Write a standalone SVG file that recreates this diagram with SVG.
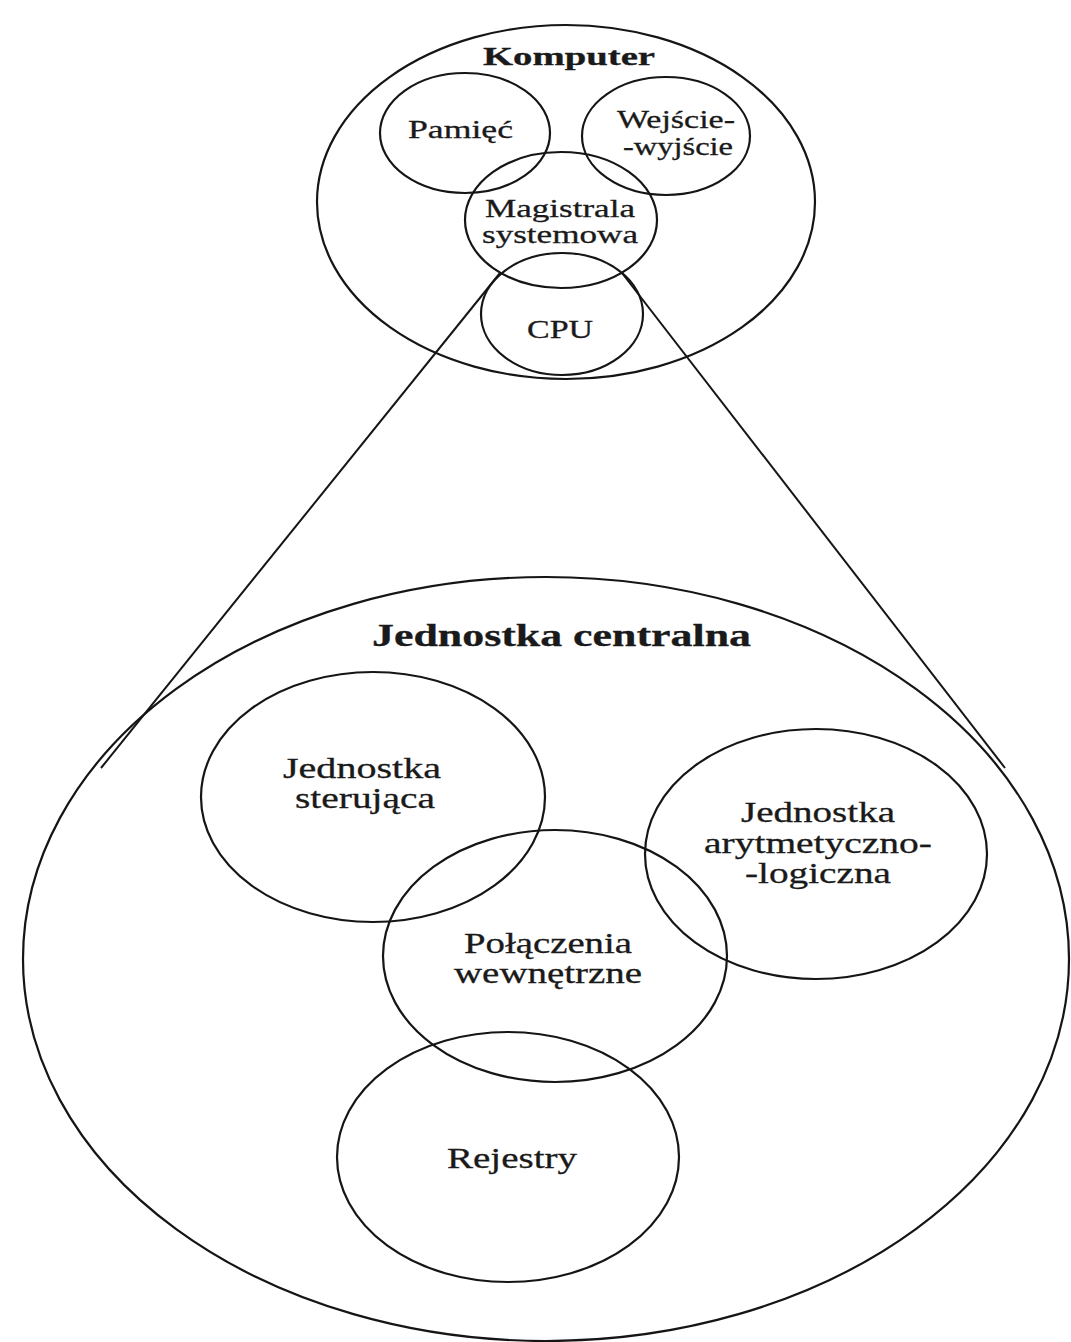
<svg xmlns="http://www.w3.org/2000/svg" width="1071" height="1342" viewBox="0 0 1071 1342">
<style>
  .shape { fill: none; stroke: #151515; stroke-width: 2.2; }
  .conn { fill: none; stroke: #151515; stroke-width: 2; }
  .t { font-family: "Liberation Serif", "Times New Roman", serif; fill: #1a1a1a; stroke: #1a1a1a; stroke-width: 0.3; }
  .s { font-size: 25px; }
  .l { font-size: 30px; }
  .b { font-weight: bold; }
</style>
<rect width="1071" height="1342" fill="#ffffff"/>
<g id="connectors">
  <line class="conn" x1="500" y1="273" x2="101" y2="768"/>
  <line class="conn" x1="622" y1="273" x2="1005" y2="768"/>
</g>
<g id="komputer">
  <ellipse class="shape" cx="566" cy="202" rx="249" ry="177"/>
  <text class="t s b" x="483" y="65" textLength="172" lengthAdjust="spacingAndGlyphs">Komputer</text>
</g>
<g id="pamiec">
  <ellipse class="shape" cx="465" cy="133" rx="85" ry="60"/>
  <text class="t s" x="408" y="138" textLength="105" lengthAdjust="spacingAndGlyphs">Pamięć</text>
</g>
<g id="wejscie-wyjscie">
  <ellipse class="shape" cx="666" cy="136" rx="84" ry="59"/>
  <text class="t s" x="617" y="128" textLength="118" lengthAdjust="spacingAndGlyphs">Wejście-</text>
  <text class="t s" x="623" y="155" textLength="110" lengthAdjust="spacingAndGlyphs">-wyjście</text>
</g>
<g id="magistrala">
  <ellipse class="shape" cx="561" cy="220" rx="96" ry="68"/>
  <text class="t s" x="485" y="217" textLength="150" lengthAdjust="spacingAndGlyphs">Magistrala</text>
  <text class="t s" x="482" y="243" textLength="156" lengthAdjust="spacingAndGlyphs">systemowa</text>
</g>
<g id="cpu">
  <ellipse class="shape" cx="562" cy="314" rx="81" ry="61"/>
  <text class="t s" x="527" y="338" textLength="66" lengthAdjust="spacingAndGlyphs">CPU</text>
</g>
<g id="jednostka-centralna">
  <ellipse class="shape" cx="546" cy="959" rx="523" ry="382"/>
  <text class="t b" style="font-size:32px" x="372" y="646" textLength="379" lengthAdjust="spacingAndGlyphs">Jednostka centralna</text>
</g>
<g id="jednostka-sterujaca">
  <ellipse class="shape" cx="373" cy="797" rx="172" ry="125"/>
  <text class="t l" x="283" y="778" textLength="158" lengthAdjust="spacingAndGlyphs">Jednostka</text>
  <text class="t l" x="295" y="808" textLength="140" lengthAdjust="spacingAndGlyphs">sterująca</text>
</g>
<g id="jednostka-arytmetyczno-logiczna">
  <ellipse class="shape" cx="816" cy="854" rx="171" ry="125"/>
  <text class="t l" x="741" y="822" textLength="154" lengthAdjust="spacingAndGlyphs">Jednostka</text>
  <text class="t l" x="704" y="853" textLength="228" lengthAdjust="spacingAndGlyphs">arytmetyczno-</text>
  <text class="t l" x="745" y="883" textLength="146" lengthAdjust="spacingAndGlyphs">-logiczna</text>
</g>
<g id="polaczenia-wewnetrzne">
  <ellipse class="shape" cx="555" cy="956" rx="172" ry="126"/>
  <text class="t l" x="464" y="953" textLength="168" lengthAdjust="spacingAndGlyphs">Połączenia</text>
  <text class="t l" x="454" y="983" textLength="188" lengthAdjust="spacingAndGlyphs">wewnętrzne</text>
</g>
<g id="rejestry">
  <ellipse class="shape" cx="508" cy="1157" rx="171" ry="125"/>
  <text class="t l" x="447" y="1168" textLength="130" lengthAdjust="spacingAndGlyphs">Rejestry</text>
</g>
</svg>
